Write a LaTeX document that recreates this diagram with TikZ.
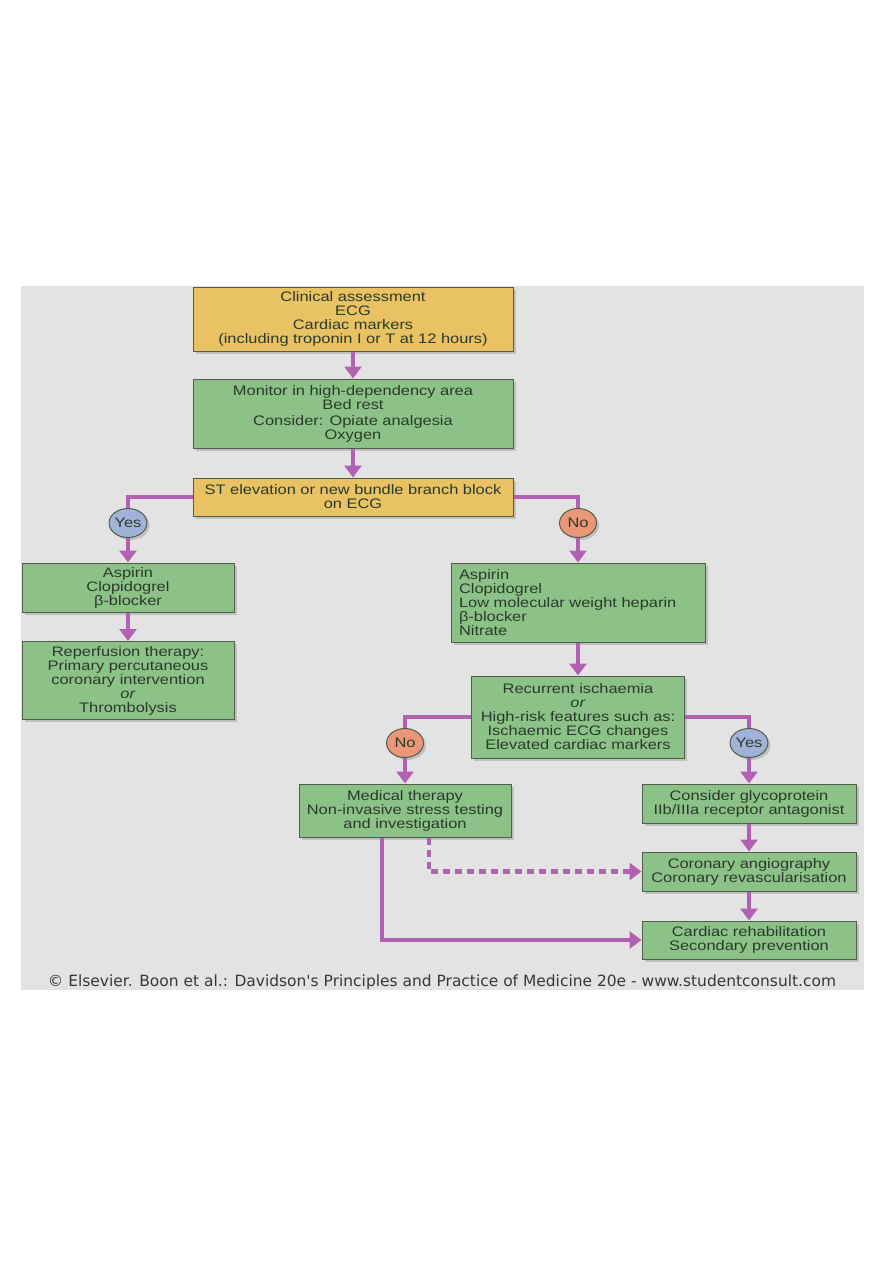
\documentclass[tikz,border=0pt]{standalone}
\usepackage{fontspec}
\usepackage{graphicx}
\setmainfont{Liberation Sans}[FakeStretch=1.19]
\newfontfamily\copyfont{DejaVu Sans}
\usetikzlibrary{arrows.meta,shapes.geometric,shadows}
\definecolor{bgc}{RGB}{227,227,227}
\definecolor{ybox}{RGB}{233,194,100}
\definecolor{gbox}{RGB}{140,194,136}
\definecolor{boxline}{RGB}{80,92,76}
\definecolor{purp}{RGB}{178,96,178}
\definecolor{yesc}{RGB}{160,178,215}
\definecolor{noc}{RGB}{236,150,120}
\definecolor{txt}{RGB}{42,58,42}
\definecolor{copytxt}{RGB}{55,55,55}
\begin{document}
\begin{tikzpicture}[x=1pt,y=-1pt,
  box/.style={draw=boxline, line width=1pt, text=txt,
    font=\fontsize{13.8pt}{14pt}\selectfont, align=center, inner sep=2pt,
    drop shadow={shadow xshift=2.5pt, shadow yshift=-2.5pt, opacity=0.35}},
  ybox/.style={box, fill=ybox},
  gbox/.style={box, fill=gbox},
  dec/.style={ellipse, draw=boxline, line width=1pt, minimum width=37pt,
    minimum height=29pt, inner sep=0pt, text=txt,
    font=\fontsize{13.8pt}{14pt}\selectfont,
    drop shadow={shadow xshift=2.5pt, shadow yshift=-2.5pt, opacity=0.35}},
  link/.style={draw=purp, line width=4.5pt},
  arr/.style={link, -{Triangle[width=17pt,length=12pt]}},
]
\useasboundingbox (0,0) rectangle (893,1263);
\fill[white] (0,0) rectangle (893,1263);
\fill[bgc] (21,286) rectangle (864,990);

\node[ybox, minimum width=320pt, minimum height=64pt] (clin) at (353,319)
  {Clinical assessment\\ECG\\Cardiac markers\\(including troponin I or T at 12 hours)};
\node[gbox, minimum width=320pt, minimum height=69pt] (mon) at (353,413.5)
  {Monitor in high-dependency area\\Bed rest\\[2pt]Consider: Opiate analgesia\\Oxygen};
\node[ybox, minimum width=320pt, minimum height=38pt] (st) at (353,497)
  {ST elevation or new bundle branch block\\on ECG};
\node[dec, fill=yesc] (yes1) at (128,523) {Yes};
\node[dec, fill=noc] (no1) at (578,523) {No};
\node[gbox, minimum width=212pt, minimum height=49pt] (asp1) at (128,587.5)
  {Aspirin\\Clopidogrel\\β-blocker};
\node[gbox, minimum width=212pt, minimum height=78pt] (rep) at (128,680.5)
  {Reperfusion therapy:\\Primary percutaneous\\coronary intervention\\\textit{or}\\Thrombolysis};
\node[gbox, text width=238pt, inner xsep=8pt, align=left, minimum height=79pt] (asp2) at (578,602.5)
  {Aspirin\\Clopidogrel\\Low molecular weight heparin\\β-blocker\\Nitrate};
\node[gbox, minimum width=213pt, minimum height=82pt] (rec) at (578,717)
  {Recurrent ischaemia\\\textit{or}\\High-risk features such as:\\Ischaemic ECG changes\\Elevated cardiac markers};
\node[dec, fill=noc] (no2) at (405,743) {No};
\node[dec, fill=yesc] (yes2) at (749,743) {Yes};
\node[gbox, minimum width=212pt, minimum height=53pt] (med) at (405,810.5)
  {Medical therapy\\Non-invasive stress testing\\and investigation};
\node[gbox, minimum width=214pt, minimum height=39pt] (gly) at (749,803.5)
  {Consider glycoprotein\\IIb/IIIa receptor antagonist};
\node[gbox, minimum width=214pt, minimum height=39pt] (ang) at (749,871.5)
  {Coronary angiography\\Coronary revascularisation};
\node[gbox, minimum width=214pt, minimum height=38pt] (reh) at (749,940)
  {Cardiac rehabilitation\\Secondary prevention};

\draw[arr] (clin.south) -- (mon.north);
\draw[arr] (mon.south) -- (st.north);
\draw[link] (st.west) -| (yes1.north);
\draw[link] (st.east) -| (no1.north);
\draw[arr] (yes1.south) -- (asp1.north);
\draw[arr] (asp1.south) -- (rep.north);
\draw[arr] (no1.south) -- (asp2.north);
\draw[arr] (asp2.south) -- (rec.north);
\draw[link] (rec.west) -| (no2.north);
\draw[link] (rec.east) -| (yes2.north);
\draw[arr] (no2.south) -- (med.north);
\draw[arr] (yes2.south) -- (gly.north);
\draw[arr] (gly.south) -- (ang.north);
\draw[arr] (ang.south) -- (reh.north);
\draw[arr, dash pattern=on 7pt off 5pt] ([xshift=24pt]med.south) |- (ang.west);
\draw[arr] ([xshift=-23pt]med.south) |- (reh.west);

\node[inner sep=0pt, text=copytxt, font=\copyfont\fontsize{12pt}{12pt}\selectfont] (copy) at (442,982)
  {\resizebox{788pt}{!}{© Elsevier. Boon et al.: Davidson's Principles and Practice of Medicine 20e - www.studentconsult.com}};
\end{tikzpicture}
\end{document}
